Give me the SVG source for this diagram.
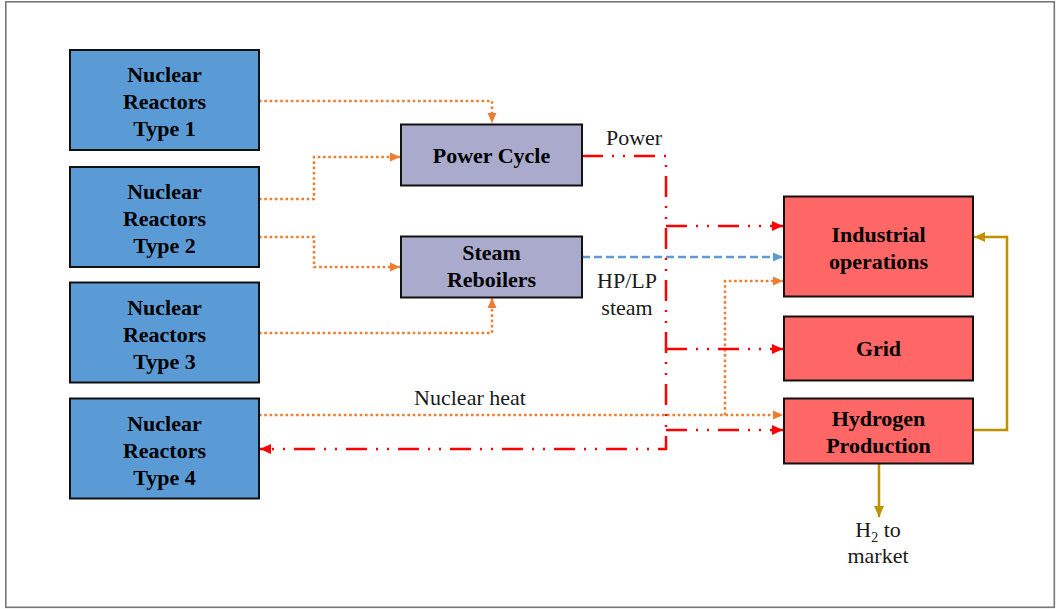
<svg xmlns="http://www.w3.org/2000/svg" width="1058" height="609" viewBox="0 0 1058 609">
<style>
.box{stroke:#111;stroke-width:2}
.nr{fill:#5B9BD5}
.mid{fill:#AAAACC}
.out{fill:#FF6666}
.bt{font-family:"Liberation Serif","Times New Roman",serif;font-weight:bold;font-size:22px;fill:#000;text-anchor:middle}
.lt{font-family:"Liberation Serif","Times New Roman",serif;font-size:22px;fill:#1a1a1a;text-anchor:middle}
.or{fill:none;stroke:#ED7D31;stroke-width:2.5;stroke-dasharray:2.6 2.7}
.rd{fill:none;stroke:#FF0000;stroke-width:2.5;stroke-dasharray:21 9 2 9 2 9}
.bl{fill:none;stroke:#5B9BD5;stroke-width:2.5;stroke-dasharray:8 4}
.gd{fill:none;stroke:#BF9000;stroke-width:2.5}
</style>
<defs>
<marker id="aO" markerUnits="userSpaceOnUse" markerWidth="10" markerHeight="10" refX="10" refY="5" orient="auto"><path d="M0,0.5 L10,5 L0,9.5 z" fill="#ED7D31"/></marker>
<marker id="aR" markerUnits="userSpaceOnUse" markerWidth="11" markerHeight="11" refX="11" refY="5.5" orient="auto"><path d="M0,0.5 L11,5.5 L0,10.5 z" fill="#FF0000"/></marker>
<marker id="aB" markerUnits="userSpaceOnUse" markerWidth="10" markerHeight="10" refX="10" refY="5" orient="auto"><path d="M0,0.5 L10,5 L0,9.5 z" fill="#5B9BD5"/></marker>
<marker id="aG" markerUnits="userSpaceOnUse" markerWidth="11" markerHeight="11" refX="11" refY="5.5" orient="auto"><path d="M0,0.5 L11,5.5 L0,10.5 z" fill="#BF9000"/></marker>
</defs>
<rect x="5.8" y="1.8" width="1048.5" height="605.5" fill="#fff" stroke="#777" stroke-width="1.6"/>

<g id="connectors">
<path class="or" d="M259,101 H492 V123" marker-end="url(#aO)"/>
<path class="or" d="M259,199 H314 V157 H400" marker-end="url(#aO)"/>
<path class="or" d="M259,237 H314 V267 H400" marker-end="url(#aO)"/>
<path class="or" d="M259,333 H492 V298" marker-end="url(#aO)"/>
<path class="or" d="M259,415 H783" marker-end="url(#aO)"/>
<path class="or" d="M725,415 V281 H783" marker-end="url(#aO)"/>
<path class="bl" d="M582,257 H783" marker-end="url(#aB)"/>
<path class="rd" d="M582,156 H666 V449 H260" marker-end="url(#aR)"/>
<path class="rd" d="M666,226 H783" marker-end="url(#aR)"/>
<path class="rd" d="M666,349 H783" marker-end="url(#aR)"/>
<path class="rd" d="M666,430 H783" marker-end="url(#aR)"/>
<path class="gd" d="M973,430 H1007 V237 H974" marker-end="url(#aG)"/>
<path class="gd" d="M879,464 V517" marker-end="url(#aG)"/>
</g>

<g id="nr1"><rect class="box nr" x="70" y="50" width="189" height="100"/>
<text class="bt" x="164.5" y="82">Nuclear</text><text class="bt" x="164.5" y="109">Reactors</text><text class="bt" x="164.5" y="136">Type 1</text></g>
<g id="nr2"><rect class="box nr" x="70" y="167" width="189" height="100"/>
<text class="bt" x="164.5" y="199">Nuclear</text><text class="bt" x="164.5" y="226">Reactors</text><text class="bt" x="164.5" y="253">Type 2</text></g>
<g id="nr3"><rect class="box nr" x="70" y="282.5" width="189" height="100"/>
<text class="bt" x="164.5" y="314.5">Nuclear</text><text class="bt" x="164.5" y="341.5">Reactors</text><text class="bt" x="164.5" y="368.5">Type 3</text></g>
<g id="nr4"><rect class="box nr" x="70" y="398.5" width="189" height="100"/>
<text class="bt" x="164.5" y="430.5">Nuclear</text><text class="bt" x="164.5" y="457.5">Reactors</text><text class="bt" x="164.5" y="484.5">Type 4</text></g>

<g id="powercycle"><rect class="box mid" x="401" y="124.5" width="181" height="61"/>
<text class="bt" x="491.5" y="163">Power Cycle</text></g>
<g id="steamreboilers"><rect class="box mid" x="401" y="236.5" width="181" height="61"/>
<text class="bt" x="491.5" y="260">Steam</text><text class="bt" x="491.5" y="287">Reboilers</text></g>

<g id="industrial"><rect class="box out" x="784" y="196.5" width="189" height="100"/>
<text class="bt" x="878.5" y="242">Industrial</text><text class="bt" x="878.5" y="269">operations</text></g>
<g id="grid"><rect class="box out" x="784" y="316.5" width="189" height="64"/>
<text class="bt" x="878.5" y="356">Grid</text></g>
<g id="hydrogen"><rect class="box out" x="784" y="398.5" width="189" height="65"/>
<text class="bt" x="878.5" y="426">Hydrogen</text><text class="bt" x="878.5" y="453">Production</text></g>

<g id="labels">
<text class="lt" x="634" y="145">Power</text>
<text class="lt" x="627" y="288">HP/LP</text>
<text class="lt" x="627" y="315">steam</text>
<text class="lt" x="470" y="405">Nuclear heat</text>
<text class="lt" x="878" y="537">H<tspan font-size="14" dy="5">2</tspan><tspan dy="-5"> to</tspan></text>
<text class="lt" x="878" y="563">market</text>
</g>
</svg>
